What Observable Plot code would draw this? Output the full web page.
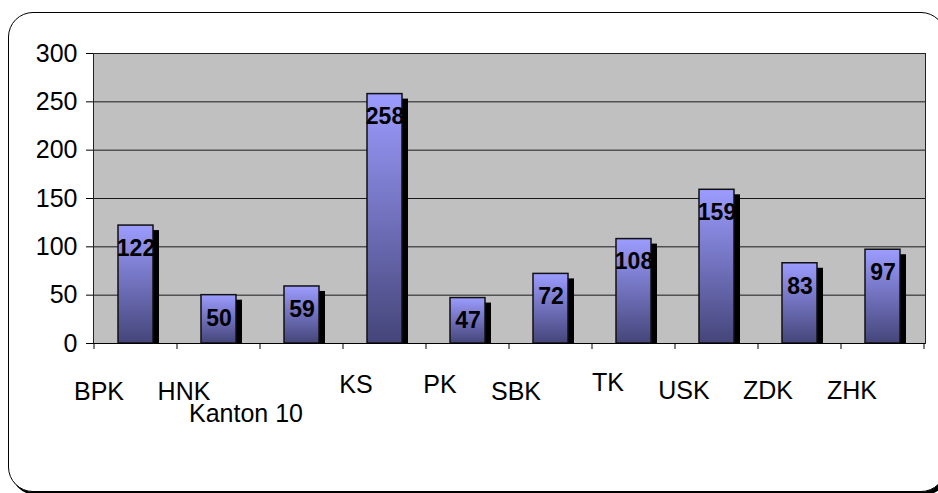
<!DOCTYPE html>
<html>
<head>
<meta charset="utf-8">
<script src="https://cdn.jsdelivr.net/npm/d3@7"></script>
<script src="https://cdn.jsdelivr.net/npm/@observablehq/plot@0.6"></script>
<style>
  html, body { margin: 0; padding: 0; background: #fff; }
  #wrap { position: relative; width: 938px; height: 493px; overflow: hidden; font-family: "Liberation Sans", Arial, sans-serif; }
  #box { position: absolute; left: 8px; top: 12px; width: 936px; height: 478px; border: 1.5px solid #000; border-radius: 25px; box-shadow: 3px 3px 0 #000; background: #fff; }
  #chart { position: absolute; left: 0; top: 0; }
</style>
</head>
<body>
<div id="wrap"><div id="box"></div><div id="chart"></div></div>
<script>
const categories = ["BPK", "HNK", "Kanton 10", "KS", "PK", "SBK", "TK", "USK", "ZDK", "ZHK"];
const values = [122, 50, 59, 258, 47, 72, 108, 159, 83, 97];
const yTicks = [0, 50, 100, 150, 200, 250, 300];

// label nudges (dx, dy) relative to each category's band centre at the baseline
const labelNudge = [[-37, 48], [-35, 48], [-56, 70], [-29, 41], [-28, 41], [-35, 48], [-26, 39], [-33, 47], [-32, 47], [-31, 47]];

const font = "'Liberation Sans', Arial, sans-serif";

const xTicksMark = (index, scales, values_, dims) => {
  const x = scales.x;
  const y = scales.y;
  const step = x.step ? x.step() : (dims.width - dims.marginLeft - dims.marginRight) / categories.length;
  const bw = x.bandwidth ? x.bandwidth() : 0;
  const g = d3.create("svg:g");
  const y0 = y(0);
  const bounds = categories.map(c => x(c) + bw / 2 - step / 2);
  bounds.push(x(categories[categories.length - 1]) + bw / 2 + step / 2);
  for (const b of bounds) {
    g.append("line").attr("x1", b).attr("x2", b).attr("y1", y0).attr("y2", y0 + 6)
      .attr("stroke", "#000").attr("stroke-width", 1);
  }
  return g.node();
};

const rows = values.map((v, i) => ({cat: categories[i], v}));

const plot = Plot.plot({
  width: 938,
  height: 493,
  marginLeft: 93,
  marginRight: 13,
  marginTop: 53,
  marginBottom: 150,
  style: {fontFamily: font, background: "transparent", overflow: "visible"},
  x: {type: "band", domain: categories, paddingInner: 0.58, paddingOuter: 0.29, axis: null},
  y: {domain: [0, 300], axis: null},
  marks: [
    Plot.frame({fill: "#c0c0c0", stroke: "none"}),
    Plot.ruleY(yTicks.filter(d => d > 0), {stroke: "#1a1a1a", strokeWidth: 1}),
    Plot.frame({stroke: "#222", strokeWidth: 1}),
    Plot.barY(rows, {x: "cat", y: "v", fill: "#000", dx: 6, dy: 5, insetBottom: 5}),
    Plot.barY(rows, {x: "cat", y: "v", fill: "url(#barGrad)", stroke: "#111", strokeWidth: 1.5}),
    Plot.text(rows, {x: "cat", y: "v", text: d => String(d.v), dy: 23, fontSize: 23, fontWeight: "bold", fill: "#000", fontFamily: font}),
    Plot.axisY({ticks: yTicks, label: null, tickSize: 7, tickPadding: 9, fontSize: 25, tickFormat: d => String(d), color: "#000", fontFamily: font}),
    Plot.ruleY([0], {stroke: "#000", strokeWidth: 1}),
    xTicksMark,
    ...categories.map((c, i) => Plot.text([c], {
      x: d => d, y: () => 0, text: d => d,
      dx: labelNudge[i][0], dy: labelNudge[i][1],
      fontSize: 25, fill: "#000", fontFamily: font, lineAnchor: "middle"
    }))
  ]
});

const ns = "http://www.w3.org/2000/svg";
const defs = document.createElementNS(ns, "defs");
defs.innerHTML = '<linearGradient id="barGrad" x1="0" y1="0" x2="0" y2="1">' +
  '<stop offset="0" stop-color="#9c9cff"/><stop offset="1" stop-color="#45457a"/></linearGradient>';
plot.insertBefore(defs, plot.firstChild);
document.getElementById("chart").appendChild(plot);
</script>
</body>
</html>
